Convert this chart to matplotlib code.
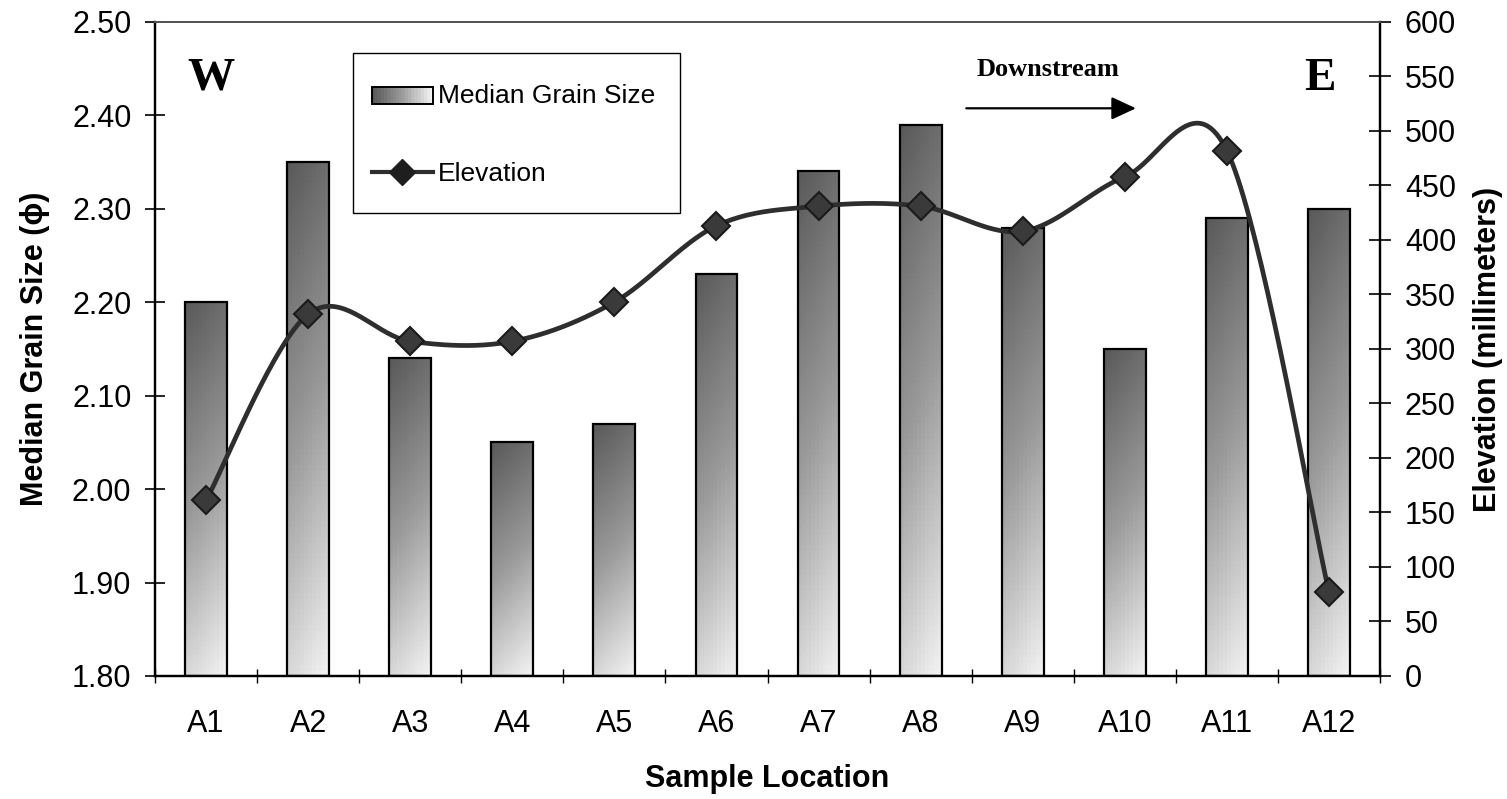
import numpy as np
import matplotlib.pyplot as plt
from matplotlib.colors import LinearSegmentedColormap
from matplotlib.legend_handler import HandlerBase
from matplotlib.lines import Line2D
from matplotlib.patches import Rectangle

plt.rcParams["font.family"] = ["Liberation Sans", "DejaVu Sans"]

locations = ["A1", "A2", "A3", "A4", "A5", "A6", "A7", "A8", "A9", "A10", "A11", "A12"]
grain_size = [2.20, 2.35, 2.14, 2.05, 2.07, 2.23, 2.34, 2.39, 2.28, 2.15, 2.29, 2.30]
elevation = [161, 332, 307, 307, 343, 413, 431, 431, 408, 458, 482, 77]

gray_ramp = LinearSegmentedColormap.from_list("ramp", ["#5a5a5a", "#9a9a9a", "#f2f2f2"])


def smooth(xs, ys, n=40):
    # Catmull-Rom through the points, ends padded by repeating the end points
    p = np.column_stack([xs, ys]).astype(float)
    p = np.vstack([p[0], p, p[-1]])
    out = []
    t = np.linspace(0, 1, n)[:, None]
    for i in range(1, len(p) - 2):
        p0, p1, p2, p3 = p[i - 1], p[i], p[i + 1], p[i + 2]
        seg = 0.5 * (2 * p1 + (-p0 + p2) * t + (2 * p0 - 5 * p1 + 4 * p2 - p3) * t ** 2
                     + (-p0 + 3 * p1 - 3 * p2 + p3) * t ** 3)
        out.append(seg)
    out = np.vstack(out)
    return out[:, 0], out[:, 1]


class GradientHandler(HandlerBase):
    def create_artists(self, legend, orig, xd, yd, w, h, fs, trans):
        pieces = []
        n = 20
        for k in range(n):
            pieces.append(Rectangle((xd + w * k / n, yd), w / n + 0.3, h,
                                    facecolor=gray_ramp(k / (n - 1)), edgecolor="none",
                                    transform=trans))
        pieces.append(Rectangle((xd, yd), w, h, facecolor="none", edgecolor="black",
                                lw=1.4, transform=trans))
        return pieces


fig = plt.figure(figsize=(15.07, 7.99), dpi=100)
ax = fig.add_axes([0.1029, 0.154, 0.8128, 0.8185])
ax2 = ax.twinx()

x = np.arange(len(locations))
width = 0.41
grad = np.linspace(0, 1, 100)[:, None] * np.ones((1, 10))
grad = grad * 0.85 + np.linspace(0, 0.15, 10)[None, :]
for xi, g in zip(x, grain_size):
    ax.imshow(grad, cmap=gray_ramp, aspect="auto", origin="upper",
              extent=[xi - width / 2, xi + width / 2, 1.80, g], vmin=0, vmax=1, zorder=2)
bars = ax.bar(x, np.array(grain_size) - 1.80, bottom=1.80, width=width,
              facecolor="none", edgecolor="black", linewidth=1.6, zorder=3)

ax.set_xlim(-0.5, len(locations) - 0.5)
ax.set_ylim(1.80, 2.50)
ax.set_yticks(np.arange(1.80, 2.501, 0.10))
ax.set_yticklabels([f"{v:.2f}" for v in np.arange(1.80, 2.501, 0.10)])
ax.set_xticks(x)
ax.set_xticklabels(locations)
ax.set_xticks(np.arange(-0.5, len(locations), 1.0), minor=True)
ax.tick_params(axis="x", which="major", length=0, labelsize=22, pad=24)
ax.tick_params(axis="x", which="minor", length=10, direction="inout", width=1)
ax.tick_params(axis="y", length=14, direction="inout", width=1.2, labelsize=22, pad=10)
ax.set_ylabel("Median Grain Size (\u03d5)", fontsize=22, fontweight="bold", labelpad=16)
ax.set_xlabel("Sample Location", fontsize=22, fontweight="bold", labelpad=18)

# elevation curve on the right axis
sx, sy = smooth(x, elevation)
ax2.plot(sx, sy, color="#2e2e2e", lw=3.4, zorder=4, solid_capstyle="round")
ax2.plot(x, elevation, ls="none", marker="D", markersize=14, markerfacecolor="#3a3a3a",
         markeredgecolor="#1a1a1a", markeredgewidth=1.5, zorder=5)
ax2.set_ylim(0, 600)
ax2.set_yticks(np.arange(0, 601, 50))
ax2.tick_params(axis="y", length=16, direction="inout", width=1.2, labelsize=22, pad=10)
ax2.set_ylabel("Elevation (millimeters)", fontsize=22, fontweight="bold", labelpad=12)

for a in (ax, ax2):
    for side in ("left", "right", "bottom"):
        a.spines[side].set_linewidth(1.6)
    a.spines["top"].set_color("#555555")
    a.spines["top"].set_linewidth(1.4)

# direction annotations
ax.text(0.0457, 0.913, "W", transform=ax.transAxes, ha="center", va="center",
        fontsize=34, fontweight="bold", family="Liberation Serif")
ax.text(0.951, 0.913, "E", transform=ax.transAxes, ha="center", va="center",
        fontsize=34, fontweight="bold", family="Liberation Serif")
ax.text(0.729, 0.928, "Downstream", transform=ax.transAxes, ha="center", va="center",
        fontsize=19, fontweight="bold", family="Liberation Serif")
ax.annotate("", xy=(0.803, 0.868), xytext=(0.66, 0.868), xycoords="axes fraction",
            arrowprops=dict(arrowstyle="-|>,head_length=1.5,head_width=0.7",
                            color="black", lw=1.6))

# legend box drawn separately so its size is fixed
W, H = 1507, 799
fig.add_artist(Rectangle((353 / W, 1 - 213 / H), 327 / W, 160 / H, transform=fig.transFigure,
                         facecolor="white", edgecolor="black", lw=1.0, zorder=9))
bar_handle = Rectangle((0, 0), 1, 1)
line_handle = Line2D([], [], color="#2e2e2e", lw=3, marker="D", markersize=13,
                     markerfacecolor="#1e1e1e", markeredgecolor="#1e1e1e")
leg = fig.legend([bar_handle, line_handle], ["Median Grain Size", "Elevation"],
                 handler_map={Rectangle: GradientHandler()},
                 loc="upper left", bbox_to_anchor=(372 / W, 1 - 84 / H),
                 fontsize=19, frameon=False, borderpad=0, labelspacing=2.05,
                 handlelength=2.3, handleheight=0.6, handletextpad=0.2, borderaxespad=0)
leg.set_zorder(10)

fig.savefig("out.png", dpi=100)
